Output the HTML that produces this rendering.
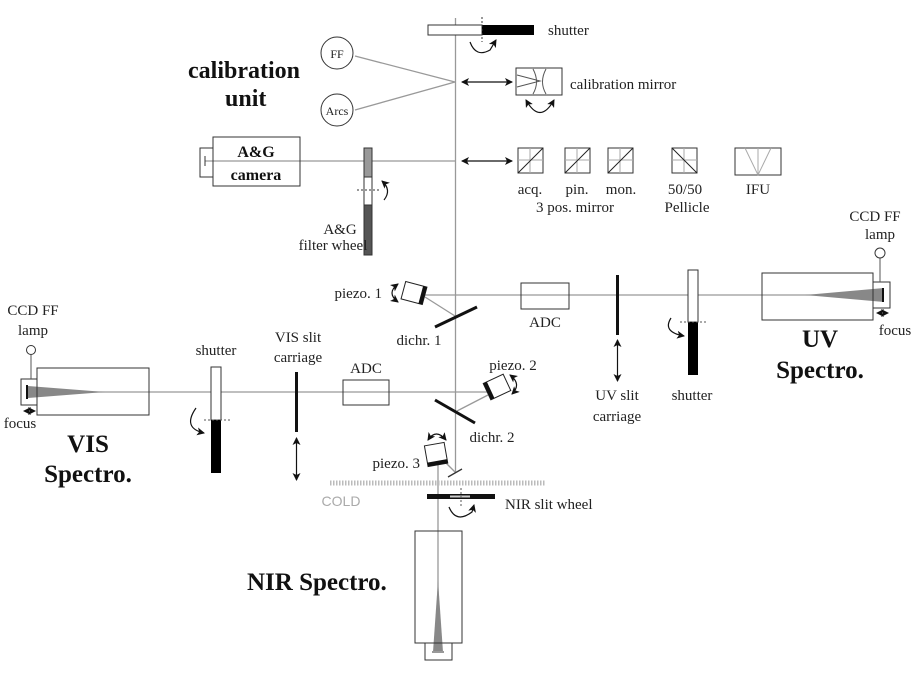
<!DOCTYPE html>
<html><head><meta charset="utf-8"><style>
html,body{margin:0;padding:0;background:#fff}
svg{display:block}
text{font-family:"Liberation Serif",serif;fill:#222}
.l{font-size:15px}
.b{font-weight:bold;font-size:25px;fill:#111}
</style></head><body>
<svg width="915" height="685" viewBox="0 0 915 685" xmlns="http://www.w3.org/2000/svg">
<defs>
<marker id="a" markerWidth="8" markerHeight="8" refX="7" refY="4" orient="auto" markerUnits="userSpaceOnUse"><path d="M0,0 L8,4 L0,8 L2,4 z" fill="#111"/></marker>
<marker id="as" markerWidth="8" markerHeight="8" refX="1" refY="4" orient="auto" markerUnits="userSpaceOnUse"><path d="M8,0 L0,4 L8,8 L6,4 z" fill="#111"/></marker>
</defs>
<g stroke="#999" stroke-width="1.3" fill="none">
<line x1="455.5" y1="18" x2="455.5" y2="473"/>
<line x1="355" y1="56" x2="455" y2="82"/>
<line x1="355" y1="110" x2="455" y2="82"/>
<line x1="205" y1="161" x2="455" y2="161"/>
<line x1="425" y1="295" x2="878" y2="295"/>
<line x1="425" y1="297" x2="455" y2="316"/>
<line x1="28" y1="392" x2="489" y2="392"/>
<line x1="488" y1="395" x2="457" y2="411"/>
<line x1="438" y1="465" x2="438" y2="650"/>
<line x1="446" y1="463" x2="455" y2="472"/>
</g>
<rect x="428" y="25" width="54" height="10" fill="#fff" stroke="#333"/>
<rect x="482" y="25" width="52" height="10" fill="#000"/>
<line x1="482" y1="17" x2="482" y2="42" stroke="#333" stroke-dasharray="2,2"/>
<path d="M470,42 Q476,58 490,50 L496,40" fill="none" stroke="#111" stroke-width="1.2" marker-end="url(#a)"/>
<text class="l" x="548" y="35">shutter</text>
<text class="b" x="188" y="78" style="font-size:24px">calibration</text>
<text class="b" x="225" y="106" style="font-size:24px">unit</text>
<circle cx="337" cy="53" r="16" fill="#fff" stroke="#333"/>
<text class="l" x="337" y="58" text-anchor="middle" style="font-size:12px">FF</text>
<circle cx="337" cy="110" r="16" fill="#fff" stroke="#333"/>
<text class="l" x="337" y="115" text-anchor="middle" style="font-size:12px">Arcs</text>
<line x1="462" y1="82" x2="512" y2="82" stroke="#111" stroke-width="1.3" marker-start="url(#as)" marker-end="url(#a)"/>
<rect x="516" y="68" width="46" height="27" fill="#fff" stroke="#333"/>
<path d="M517,75 L540,81 L517,87 M533,69 Q540,82 533,94 M546,69 Q539,82 546,94" fill="none" stroke="#555"/>
<path d="M526,100 Q540,125 554,100" fill="none" stroke="#111" stroke-width="1.2" marker-start="url(#as)" marker-end="url(#a)"/>
<text class="l" x="570" y="89">calibration mirror</text>
<rect x="200" y="148" width="13" height="29" fill="none" stroke="#333"/>
<line x1="205" y1="156" x2="205" y2="166" stroke="#333"/>
<rect x="213" y="137" width="87" height="49" fill="none" stroke="#333"/>
<text class="b" x="256" y="157" text-anchor="middle" style="font-size:16px">A&amp;G</text>
<text class="b" x="256" y="180" text-anchor="middle" style="font-size:16px">camera</text>
<rect x="364" y="148" width="8" height="29" fill="#999" stroke="#333"/>
<rect x="364" y="177" width="8" height="28" fill="#fff" stroke="#333"/>
<rect x="364" y="205" width="8" height="50" fill="#555" stroke="#333"/>
<line x1="357" y1="190" x2="381" y2="190" stroke="#333" stroke-dasharray="2,2"/>
<path d="M382,181 Q392,190 384,200" fill="none" stroke="#111" stroke-width="1.2" marker-start="url(#as)"/>
<text class="l" x="340" y="234" text-anchor="middle">A&amp;G</text>
<text class="l" x="333" y="250" text-anchor="middle">filter wheel</text>
<line x1="462" y1="161" x2="512" y2="161" stroke="#111" stroke-width="1.3" marker-start="url(#as)" marker-end="url(#a)"/>
<g fill="#fff" stroke="#333">
<rect x="518" y="148" width="25" height="25"/><rect x="565" y="148" width="25" height="25"/><rect x="608" y="148" width="25" height="25"/><rect x="672" y="148" width="25" height="25"/><rect x="735" y="148" width="46" height="27"/>
</g>
<g stroke="#aaa" fill="none"><line x1="530" y1="148" x2="530" y2="173"/><line x1="518" y1="160" x2="543" y2="160"/><line x1="577" y1="148" x2="577" y2="173"/><line x1="565" y1="160" x2="590" y2="160"/><line x1="620" y1="148" x2="620" y2="173"/><line x1="608" y1="160" x2="633" y2="160"/><line x1="684" y1="148" x2="684" y2="173"/><line x1="672" y1="160" x2="697" y2="160"/><path d="M745,148 L758,175 L771,148"/><line x1="758" y1="148" x2="758" y2="175"/></g>
<g stroke="#222"><line x1="518" y1="173" x2="543" y2="148"/><line x1="565" y1="173" x2="590" y2="148"/><line x1="608" y1="173" x2="633" y2="148"/><line x1="672" y1="148" x2="697" y2="173"/></g>
<text class="l" x="530" y="194" text-anchor="middle">acq.</text>
<text class="l" x="577" y="194" text-anchor="middle">pin.</text>
<text class="l" x="621" y="194" text-anchor="middle">mon.</text>
<text class="l" x="575" y="212" text-anchor="middle">3 pos. mirror</text>
<text class="l" x="685" y="194" text-anchor="middle">50/50</text>
<text class="l" x="687" y="212" text-anchor="middle">Pellicle</text>
<text class="l" x="758" y="194" text-anchor="middle">IFU</text>
<g transform="rotate(15 414 293)"><rect x="403" y="284" width="22" height="18" fill="#fff" stroke="#222"/><rect x="421" y="284" width="4" height="18" fill="#111"/></g>
<path d="M398,284 Q386,293 398,302" fill="none" stroke="#111" stroke-width="1.2" marker-start="url(#as)" marker-end="url(#a)"/>
<text class="l" x="382" y="298" text-anchor="end">piezo. 1</text>
<line x1="435" y1="327" x2="477" y2="307" stroke="#111" stroke-width="3"/>
<text class="l" x="419" y="345" text-anchor="middle">dichr. 1</text>
<g transform="rotate(-25 497 387)"><rect x="486" y="378" width="22" height="18" fill="#fff" stroke="#222"/><rect x="486" y="378" width="4" height="18" fill="#111"/></g>
<path d="M510,375 Q522,384 512,394" fill="none" stroke="#111" stroke-width="1.2" marker-start="url(#as)" marker-end="url(#a)"/>
<text class="l" x="513" y="370" text-anchor="middle">piezo. 2</text>
<line x1="435" y1="400" x2="475" y2="423" stroke="#111" stroke-width="3"/>
<text class="l" x="492" y="442" text-anchor="middle">dichr. 2</text>
<g transform="rotate(-10 436 454)"><rect x="426" y="444" width="20" height="21" fill="#fff" stroke="#222"/><rect x="426" y="461" width="20" height="4" fill="#111"/></g>
<path d="M428,440 Q436,428 446,440" fill="none" stroke="#111" stroke-width="1.2" marker-start="url(#as)" marker-end="url(#a)"/>
<text class="l" x="420" y="468" text-anchor="end">piezo. 3</text>
<line x1="448" y1="477" x2="462" y2="469" stroke="#333" stroke-width="1.3"/>
<rect x="521" y="283" width="48" height="26" fill="none" stroke="#333"/>
<text class="l" x="545" y="327" text-anchor="middle">ADC</text>
<rect x="616" y="275" width="3" height="60" fill="#111"/>
<line x1="617.5" y1="340" x2="617.5" y2="381" stroke="#111" stroke-width="1.2" marker-start="url(#as)" marker-end="url(#a)"/>
<text class="l" x="617" y="400" text-anchor="middle">UV slit</text>
<text class="l" x="617" y="421" text-anchor="middle">carriage</text>
<rect x="688" y="270" width="10" height="52" fill="#fff" stroke="#333"/>
<rect x="688" y="322" width="10" height="53" fill="#000"/>
<line x1="680" y1="322" x2="706" y2="322" stroke="#555" stroke-dasharray="2,2"/>
<path d="M671,318 Q662,332 684,336" fill="none" stroke="#111" stroke-width="1.2" marker-end="url(#a)"/>
<text class="l" x="692" y="400" text-anchor="middle">shutter</text>
<rect x="762" y="273" width="111" height="47" fill="none" stroke="#333"/>
<polygon points="805,295 884,288 884,302" fill="#888"/>
<rect x="873" y="282" width="17" height="26" fill="none" stroke="#333"/>
<line x1="883" y1="288" x2="883" y2="302" stroke="#111" stroke-width="2"/>
<line x1="880" y1="258" x2="880" y2="282" stroke="#555"/>
<circle cx="880" cy="253" r="5" fill="#fff" stroke="#333"/>
<text class="l" x="875" y="221" text-anchor="middle">CCD FF</text>
<text class="l" x="880" y="239" text-anchor="middle">lamp</text>
<line x1="877" y1="313" x2="888" y2="313" stroke="#333" marker-start="url(#as)" marker-end="url(#a)" style="stroke-width:0.8"/>
<text class="l" x="895" y="335" text-anchor="middle">focus</text>
<text class="b" x="820" y="347" text-anchor="middle">UV</text>
<text class="b" x="820" y="378" text-anchor="middle">Spectro.</text>
<rect x="37" y="368" width="112" height="47" fill="none" stroke="#333"/>
<polygon points="28,386 28,398 105,392" fill="#888"/>
<rect x="21" y="379" width="16" height="26" fill="none" stroke="#333"/>
<line x1="27" y1="385" x2="27" y2="399" stroke="#111" stroke-width="2"/>
<line x1="31" y1="355" x2="31" y2="379" stroke="#555"/>
<circle cx="31" cy="350" r="4.5" fill="#fff" stroke="#333"/>
<text class="l" x="33" y="315" text-anchor="middle">CCD FF</text>
<text class="l" x="33" y="335" text-anchor="middle">lamp</text>
<line x1="24" y1="411" x2="35" y2="411" stroke="#333" marker-start="url(#as)" marker-end="url(#a)" style="stroke-width:0.8"/>
<text class="l" x="20" y="428" text-anchor="middle">focus</text>
<text class="b" x="88" y="452" text-anchor="middle">VIS</text>
<text class="b" x="88" y="482" text-anchor="middle">Spectro.</text>
<rect x="211" y="367" width="10" height="53" fill="#fff" stroke="#333"/>
<rect x="211" y="420" width="10" height="53" fill="#000"/>
<line x1="204" y1="420" x2="230" y2="420" stroke="#555" stroke-dasharray="2,2"/>
<path d="M196,408 Q182,428 204,433" fill="none" stroke="#111" stroke-width="1.2" marker-end="url(#a)"/>
<text class="l" x="216" y="355" text-anchor="middle">shutter</text>
<rect x="295" y="372" width="3" height="60" fill="#111"/>
<line x1="296.5" y1="438" x2="296.5" y2="480" stroke="#111" stroke-width="1.2" marker-start="url(#as)" marker-end="url(#a)"/>
<text class="l" x="298" y="342" text-anchor="middle">VIS slit</text>
<text class="l" x="298" y="362" text-anchor="middle">carriage</text>
<rect x="343" y="380" width="46" height="25" fill="none" stroke="#333"/>
<text class="l" x="366" y="373" text-anchor="middle">ADC</text>
<line x1="330" y1="483" x2="545" y2="483" stroke="#bbb" stroke-width="5" stroke-dasharray="1.5,1.5"/>
<text x="341" y="506" text-anchor="middle" style="font-family:'Liberation Sans',sans-serif;font-size:14px;fill:#aaa">COLD</text>
<rect x="427" y="494" width="68" height="5" fill="#111"/>
<rect x="450" y="495.5" width="20" height="2" fill="#ccc"/>
<line x1="461" y1="488" x2="461" y2="506" stroke="#555" stroke-dasharray="2,2"/>
<path d="M449,507 Q456,524 472,512 L474,505" fill="none" stroke="#111" stroke-width="1.2" marker-end="url(#a)"/>
<text class="l" x="505" y="509">NIR slit wheel</text>
<rect x="415" y="531" width="47" height="112" fill="none" stroke="#333"/>
<polygon points="438,580 433,652 443,652" fill="#888"/>
<rect x="425" y="643" width="27" height="17" fill="none" stroke="#333"/>
<line x1="432" y1="652" x2="444" y2="652" stroke="#999" stroke-width="2"/>
<text class="b" x="247" y="590">NIR Spectro.</text>
</svg>
</body></html>
